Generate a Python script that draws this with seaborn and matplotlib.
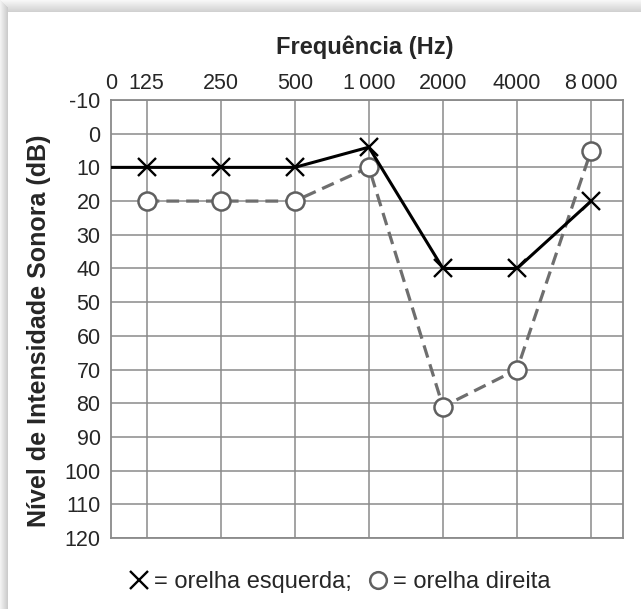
import numpy as np
import pandas as pd
import matplotlib
matplotlib.use("Agg")
import matplotlib.pyplot as plt
from matplotlib.lines import Line2D
from matplotlib.patches import Rectangle
import seaborn as sns

# ---- data ----
freq_labels = ["0", "125", "250", "500", "1\u2009000", "2000", "4000", "8\u2009000"]
left_ear = [10, 10, 10, 10, 4, 40, 40, 20]          # X, solid black (starts at the "0" edge)
right_ear = [np.nan, 20, 20, 20, 10, 81, 70, 5]     # O, dashed gray
db_ticks = list(range(-10, 121, 10))
title = "Frequência (Hz)"
ylabel = "Nível de Intensidade Sonora (dB)"
legend_left = "= orelha esquerda;"
legend_right = "= orelha direita"

sns.set_style("white")
plt.rcParams["font.family"] = ["Liberation Sans", "DejaVu Sans"]

fig = plt.figure(figsize=(6.41, 6.09), dpi=100)
fig.patch.set_facecolor("white")

# shadow frame (top and left gradient)
W, H = 641, 609
for i in range(12):
    c = 0.97 - 0.15 * (i / 11)
    fig.add_artist(Rectangle((0, 1 - (i + 1) / H), 1, 1 / H, transform=fig.transFigure,
                             facecolor=(c, c, c), edgecolor="none", zorder=-10))
for i in range(8):
    c = 0.95 - 0.15 * (i / 7)
    fig.add_artist(Rectangle((i / W, 0), 1 / W, 1 - (i) / H, transform=fig.transFigure,
                             facecolor=(c, c, c), edgecolor="none", zorder=-9))
fig.add_artist(Rectangle((8 / W, 0), 1 - 8 / W, 1 - 12 / H, transform=fig.transFigure,
                         facecolor="white", edgecolor="none", zorder=-8))

ax = fig.add_axes([111 / W, 1 - 538 / H, (623 - 111) / W, (538 - 100) / H])
ax.set_facecolor("white")

xpos = [-0.48] + list(range(len(freq_labels) - 1))
df = pd.DataFrame({"x": xpos, "left": left_ear, "right": right_ear})

grid_c = "#8a8a8a"
for x in xpos[1:]:
    ax.axvline(x, color=grid_c, lw=1.1, zorder=1)
for y in db_ticks:
    ax.axhline(y, color=grid_c, lw=1.1, zorder=1)

sns.lineplot(data=df, x="x", y="left", ax=ax, color="black", lw=2.2,
             marker="x", markersize=13, markeredgewidth=1.7, markeredgecolor="black",
             markevery=list(range(1, len(xpos))), zorder=4, sort=False)
dfr = df.dropna()
sns.lineplot(data=dfr, x="x", y="right", ax=ax, color="#6e6e6e", lw=2.3,
             linestyle=(0, (4, 2.2)), marker="o", markersize=13,
             markerfacecolor="white", markeredgecolor="#606060", markeredgewidth=1.8,
             zorder=3, sort=False)

ax.set_xlim(-0.48, 6.43)
ax.set_ylim(120, -10)
ax.xaxis.tick_top()
ax.set_xticks(xpos)
ax.set_xticklabels(freq_labels, fontsize=15.5)
ax.set_yticks(db_ticks)
ax.set_yticklabels([str(v) for v in db_ticks], fontsize=15.5)
ax.tick_params(axis="both", length=0)
ax.tick_params(axis="x", pad=4)
ax.tick_params(axis="y", pad=7.5)
ax.set_xlabel("")
ax.set_ylabel("")
for s in ax.spines.values():
    s.set_color(grid_c)
    s.set_linewidth(1.3)

bold_fam = ["Liberation Sans", "DejaVu Sans"]
fig.text(365 / W, 1 - 47 / H, title, ha="center", va="center", fontsize=17,
         fontweight="bold", family=bold_fam)
fig.text(39 / W, 1 - 331 / H, ylabel, ha="center", va="center", rotation=90,
         fontsize=18, fontweight="bold", family=bold_fam)

handles = [Line2D([], [], linestyle="none", marker="x", color="black", markersize=13,
                  markeredgewidth=1.7),
           Line2D([], [], linestyle="none", marker="o", markerfacecolor="white",
                  markeredgecolor="#606060", markersize=12, markeredgewidth=1.8)]
leg = fig.legend(handles, [legend_left, legend_right], loc="center",
                 bbox_to_anchor=(340 / W, 1 - 582 / H), ncol=2, frameon=False,
                 fontsize=17, handlelength=0.8, handletextpad=0.25, columnspacing=0.7)

fig.savefig("out.png", dpi=100, facecolor="white")
